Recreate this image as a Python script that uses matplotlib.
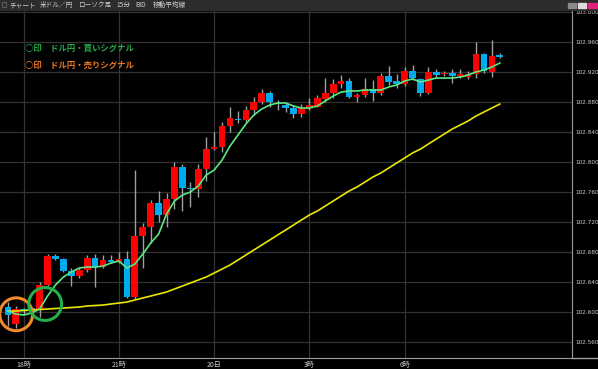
import numpy as np
import matplotlib
matplotlib.use("Agg")
import matplotlib.pyplot as plt
from matplotlib.lines import Line2D
from matplotlib.patches import Rectangle

# 15 minute candles, USD/JPY BID
opens = [102.607, 102.584, 102.604, 102.605, 102.603, 102.636, 102.675, 102.671, 102.655, 102.648,
         102.656, 102.672, 102.660, 102.669, 102.667, 102.671, 102.620, 102.701, 102.713, 102.745,
         102.729, 102.751, 102.793, 102.765, 102.764, 102.791, 102.817, 102.820, 102.848, 102.857,
         102.856, 102.869, 102.880, 102.892, 102.879, 102.876, 102.872, 102.864, 102.872, 102.873,
         102.884, 102.892, 102.904, 102.908, 102.887, 102.889, 102.897, 102.892, 102.915, 102.908,
         102.904, 102.921, 102.911, 102.892, 102.920, 102.917, 102.919, 102.915, 102.913, 102.917,
         102.944, 102.920, 102.943]
closes = [102.596, 102.604, 102.602, 102.603, 102.636, 102.675, 102.671, 102.655, 102.648, 102.656,
          102.672, 102.660, 102.669, 102.667, 102.671, 102.620, 102.701, 102.713, 102.745, 102.729,
          102.751, 102.793, 102.765, 102.764, 102.791, 102.817, 102.820, 102.848, 102.859, 102.856,
          102.869, 102.880, 102.892, 102.880, 102.877, 102.872, 102.864, 102.872, 102.876, 102.885,
          102.892, 102.904, 102.908, 102.887, 102.889, 102.897, 102.892, 102.915, 102.907, 102.904,
          102.921, 102.912, 102.892, 102.920, 102.916, 102.919, 102.915, 102.917, 102.917, 102.944,
          102.921, 102.941, 102.940]
highs = [102.613, 102.608, 102.606, 102.606, 102.640, 102.677, 102.677, 102.672, 102.659, 102.659,
         102.676, 102.677, 102.676, 102.676, 102.680, 102.681, 102.789, 102.719, 102.749, 102.761,
         102.759, 102.800, 102.797, 102.773, 102.797, 102.833, 102.840, 102.853, 102.873, 102.868,
         102.875, 102.887, 102.897, 102.895, 102.883, 102.879, 102.876, 102.877, 102.885, 102.889,
         102.912, 102.911, 102.916, 102.912, 102.892, 102.912, 102.909, 102.919, 102.928, 102.917,
         102.927, 102.929, 102.912, 102.927, 102.924, 102.921, 102.924, 102.924, 102.921, 102.960,
         102.945, 102.963, 102.945]
lows = [102.581, 102.579, 102.598, 102.602, 102.593, 102.635, 102.669, 102.653, 102.635, 102.645,
        102.653, 102.633, 102.659, 102.665, 102.666, 102.619, 102.617, 102.659, 102.692, 102.720,
        102.713, 102.737, 102.735, 102.740, 102.753, 102.775, 102.816, 102.813, 102.840, 102.852,
        102.853, 102.863, 102.877, 102.873, 102.869, 102.867, 102.859, 102.860, 102.869, 102.873,
        102.880, 102.885, 102.899, 102.885, 102.880, 102.887, 102.881, 102.889, 102.903, 102.899,
        102.901, 102.909, 102.888, 102.891, 102.912, 102.915, 102.905, 102.912, 102.911, 102.912,
        102.919, 102.913, 102.939]

# moving averages
ma_short = [102.6013, 102.5973, 102.5960, 102.5987, 102.6040, 102.6213, 102.6360, 102.6467, 102.6533, 102.6587,
            102.6600, 102.6600, 102.6613, 102.6653, 102.6680, 102.6587, 102.6640, 102.6773, 102.6920, 102.7040,
            102.7307, 102.7480, 102.7560, 102.7600, 102.7680, 102.7827, 102.7893, 102.8027, 102.8213, 102.8360,
            102.8507, 102.8627, 102.8707, 102.8760, 102.8787, 102.8787, 102.8747, 102.8720, 102.8720, 102.8747,
            102.8813, 102.8880, 102.8933, 102.8947, 102.8947, 102.8960, 102.8960, 102.8960, 102.9000, 102.9027,
            102.9080, 102.9107, 102.9067, 102.9093, 102.9120, 102.9120, 102.9120, 102.9133, 102.9160, 102.9200,
            102.9227, 102.9267, 102.9320]
ma_long = [102.6013, 102.6013, 102.6020, 102.6027, 102.6033, 102.6040, 102.6047, 102.6053, 102.6060, 102.6067,
           102.6080, 102.6087, 102.6093, 102.6107, 102.6120, 102.6133, 102.6160, 102.6187, 102.6213, 102.6240,
           102.6267, 102.6307, 102.6347, 102.6387, 102.6427, 102.6467, 102.6520, 102.6573, 102.6627, 102.6693,
           102.6760, 102.6827, 102.6893, 102.6960, 102.7027, 102.7093, 102.7160, 102.7227, 102.7293, 102.7347,
           102.7413, 102.7480, 102.7547, 102.7613, 102.7667, 102.7733, 102.7800, 102.7853, 102.7920, 102.7987,
           102.8053, 102.8120, 102.8173, 102.8240, 102.8307, 102.8373, 102.8440, 102.8493, 102.8547, 102.8613,
           102.8667, 102.8720, 102.8773]

# signal circles (candle index, price)
buy_signal = (4.7, 102.6107)
sell_signal = (1.05, 102.597)

time_ticks = [2, 14, 26, 38, 50]
time_labels = ["18時", "21時", "20日", "3時", "6時"]
price_ticks = [102.560, 102.600, 102.640, 102.680, 102.720, 102.760, 102.800,
               102.840, 102.880, 102.920, 102.960, 103.000]

title_parts = ["チャート", "米ドル／円", "ローソク足", "15分", "BID", "移動平均線"]
title_x = [9, 40, 78, 116, 135, 153]

JP = ["Noto Sans CJK JP", "DejaVu Sans"]

fig = plt.figure(figsize=(5.98, 3.69), dpi=100, facecolor="black")
W, H = 598.0, 369.0
ax = fig.add_axes([0, 11 / H, 572 / W, 348 / H])
ax.set_facecolor("black")

x = np.arange(len(opens))
o = np.array(opens)
c = np.array(closes)
up = c >= o
cols = np.where(up, "#ff0000", "#00aaee")
body_lo = np.minimum(o, c)
body_h = np.maximum(np.abs(c - o), 0.0018)

ax.vlines(x, lows, highs, color="#a0a0a0", lw=1, zorder=3)
ax.bar(x, body_h, bottom=body_lo, width=0.84, color=cols, zorder=4)

ax.plot(x, ma_long, color="#e8e800", lw=1.2, zorder=5)
ax.plot(x, ma_short, color="#5ce882", lw=1.2, zorder=6)

ax.scatter([sell_signal[0]], [sell_signal[1]], s=560, marker="o", facecolors="none",
           edgecolors="#f08a2a", linewidths=2.2, zorder=7)
ax.scatter([buy_signal[0]], [buy_signal[1]], s=560, marker="o", facecolors="none",
           edgecolors="#22b04a", linewidths=2.2, zorder=7)

ax.set_xlim(-0.99, 71.1)
ax.set_ylim(102.5387, 103.0027)

ax.set_xticks(time_ticks)
ax.set_xticklabels(time_labels, family=JP, fontsize=5, color="#cccccc")
ax.set_yticks(price_ticks)
ax.set_yticklabels(["%.3f" % p for p in price_ticks], fontsize=4.6, color="#cccccc",
                   fontstretch="condensed")
ax.yaxis.tick_right()
ax.tick_params(axis="both", length=0)
ax.tick_params(axis="x", pad=2)
ax.tick_params(axis="y", pad=2.5)
ax.grid(True, color="#333333", lw=0.9, zorder=0)
ax.set_axisbelow(True)

for s in ["top", "left"]:
    ax.spines[s].set_visible(False)
ax.spines["right"].set_color("#9a9a9a")
ax.spines["bottom"].set_color("#9a9a9a")
fig.add_artist(Line2D([572 / W, 1], [11 / H, 11 / H], color="#9a9a9a", lw=1))

# legend text
ax.text(25 / 572, 1 - (48 - 10) / 348, "○印　ドル円・買いシグナル", transform=ax.transAxes,
        family=JP, fontsize=6, weight="bold", color="#22b04a", va="center")
ax.text(25 / 572, 1 - (65 - 10) / 348, "○印　ドル円・売りシグナル", transform=ax.transAxes,
        family=JP, fontsize=6, weight="bold", color="#ee7a22", va="center")

# window title bar
fig.add_artist(Rectangle((0, 1 - 9.5 / H), 1, 9.5 / H, transform=fig.transFigure,
                         color="#2c2c2c", zorder=10))
fig.add_artist(Rectangle((2 / W, 1 - 7 / H), 4 / W, 5 / H, transform=fig.transFigure,
                         facecolor="none", edgecolor="#666666", lw=0.6, zorder=11))
for t, px in zip(title_parts, title_x):
    fig.text(px / W, 1 - 5 / H, t, family=JP, fontsize=4.8, color="#d0d0d0",
             va="center", zorder=12)
for bx, bw, bc in [(568, 8, "#8a8a8a"), (578, 8, "#dddddd"), (588, 9, "#e0207a")]:
    fig.add_artist(Rectangle((bx / W, 1 - 8 / H), bw / W, 5 / H, transform=fig.transFigure,
                             color=bc, zorder=11))

fig.savefig("out.png", dpi=100, facecolor="black")
